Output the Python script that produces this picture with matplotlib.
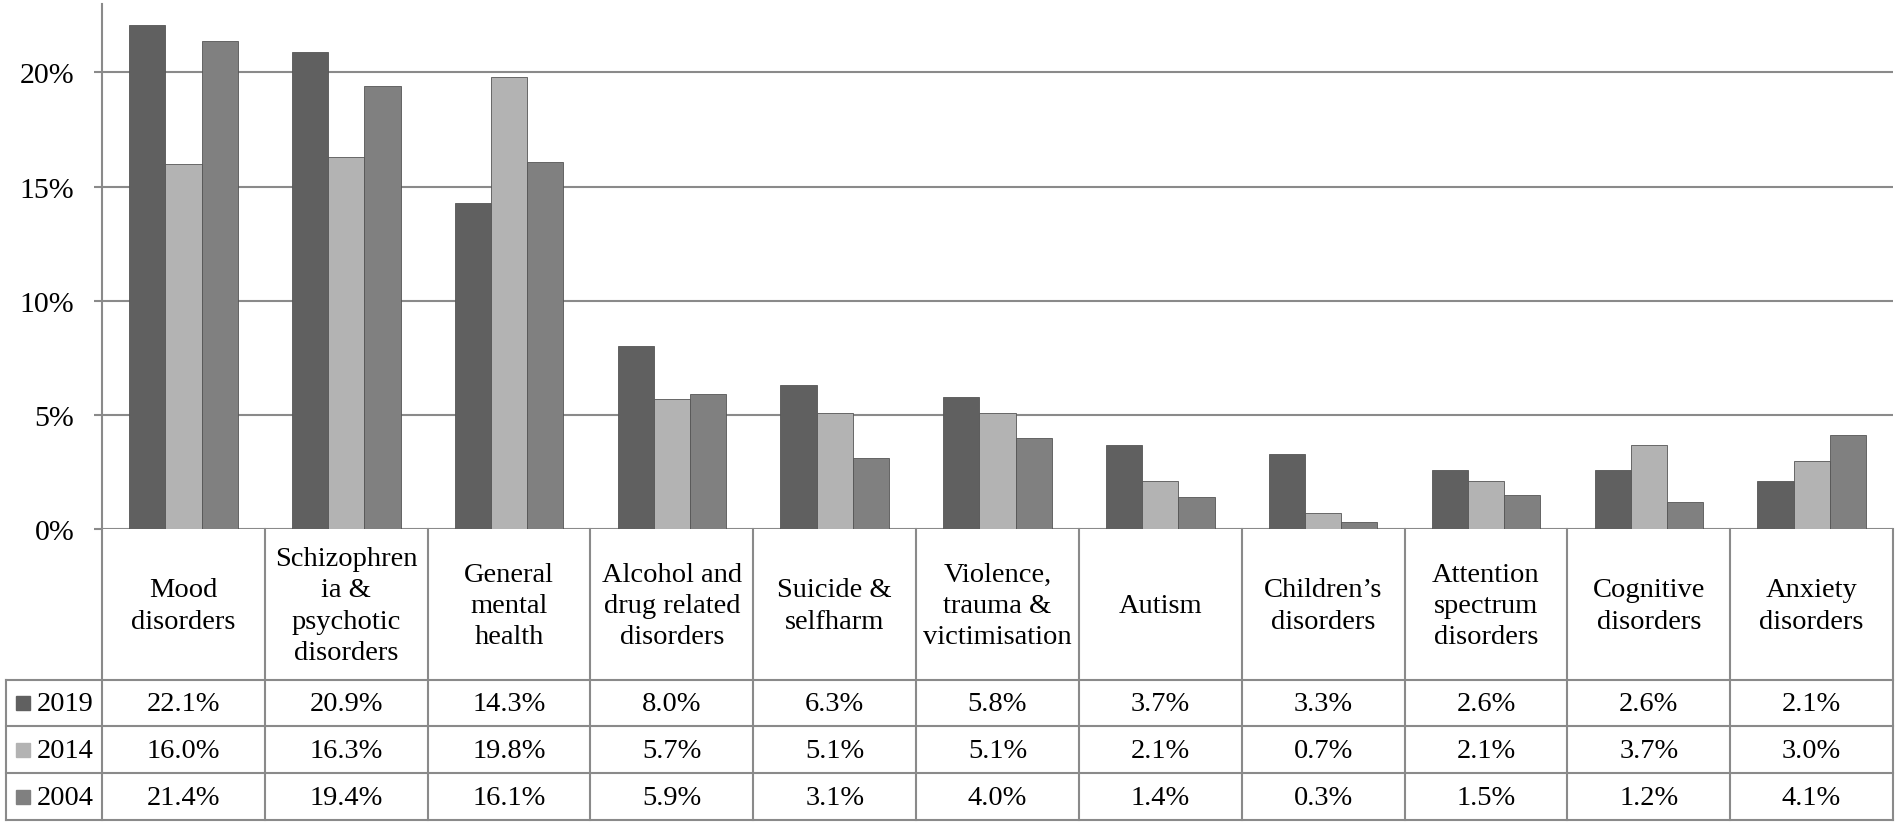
import matplotlib.pyplot as plt
import numpy as np

plt.rcParams['font.family'] = ['Liberation Serif', 'DejaVu Serif']

categories = ["Mood\ndisorders", "Schizophren\nia &\npsychotic\ndisorders", "General\nmental\nhealth",
              "Alcohol and\ndrug related\ndisorders", "Suicide &\nselfharm", "Violence,\ntrauma &\nvictimisation",
              "Autism", "Children\u2019s\ndisorders", "Attention\nspectrum\ndisorders", "Cognitive\ndisorders",
              "Anxiety\ndisorders"]
years = ["2019", "2014", "2004"]
vals_2019 = [22.1, 20.9, 14.3, 8.0, 6.3, 5.8, 3.7, 3.3, 2.6, 2.6, 2.1]
vals_2014 = [16.0, 16.3, 19.8, 5.7, 5.1, 5.1, 2.1, 0.7, 2.1, 3.7, 3.0]
vals_2004 = [21.4, 19.4, 16.1, 5.9, 3.1, 4.0, 1.4, 0.3, 1.5, 1.2, 4.1]
colors = ["#606060", "#b3b3b3", "#808080"]
yticks = [0, 5, 10, 15, 20]

W, H = 1902, 828
fig = plt.figure(figsize=(W / 100, H / 100), dpi=100)
grid_c = "#8a8a8a"

# bar area
ax = fig.add_axes([102 / W, 1 - 530 / H, (1893 - 102) / W, (530 - 5) / H])
x = np.arange(len(categories))
bw = 1 / 4.5
for i, vals in enumerate([vals_2019, vals_2014, vals_2004]):
    ax.bar(x + (i - 1) * bw, vals, bw, color=colors[i], edgecolor="#555555", linewidth=0.6, zorder=3)
ax.set_xlim(-0.5, len(categories) - 0.5)
ax.set_ylim(0, 23)
ax.set_yticks(yticks)
ax.set_yticklabels([f"{t}%" for t in yticks], fontsize=21.5)
ax.set_xticks([])
ax.grid(axis="y", color=grid_c, linewidth=1.5, zorder=0)
for s in ["top", "right", "bottom"]:
    ax.spines[s].set_visible(False)
ax.spines["left"].set_color(grid_c)
ax.spines["left"].set_linewidth(1.5)
ax.tick_params(axis="y", length=6, width=1.5, color=grid_c, pad=14)

# data table below
tax = fig.add_axes([6 / W, 1 - 821 / H, (1893 - 6) / W, (821 - 530) / H])
lab_w = 96 / 162.8
x0 = -0.5 - lab_w
tax.set_xlim(x0, len(categories) - 0.5)
rows = [0, 151, 197, 244, 291]
tax.set_ylim(rows[-1], rows[0])
tax.axis("off")
for yy in rows[1:]:
    tax.plot([x0, len(categories) - 0.5], [yy, yy], color=grid_c, lw=1.5, clip_on=False)
tax.plot([x0, x0], [rows[1], rows[-1]], color=grid_c, lw=1.5, clip_on=False)
for k in range(len(categories) + 1):
    tax.plot([k - 0.5, k - 0.5], [0, rows[-1]], color=grid_c, lw=1.5, clip_on=False)

for j, cat in enumerate(categories):
    tax.text(j, (rows[0] + rows[1]) / 2 + 1, cat, ha="center", va="center", fontsize=20.5, linespacing=1.34)

for i, vals in enumerate([vals_2019, vals_2014, vals_2004]):
    yc = (rows[i + 1] + rows[i + 2]) / 2
    tax.plot(x0 + 0.104, yc, marker="s", markersize=10, color=colors[i], mec=colors[i])
    tax.text(x0 + 0.19, yc + 1, years[i], ha="left", va="center", fontsize=20.5)
    for j, v in enumerate(vals):
        tax.text(j, yc + 1, f"{v:.1f}%", ha="center", va="center", fontsize=20.5)

fig.savefig("out.png", dpi=100)
